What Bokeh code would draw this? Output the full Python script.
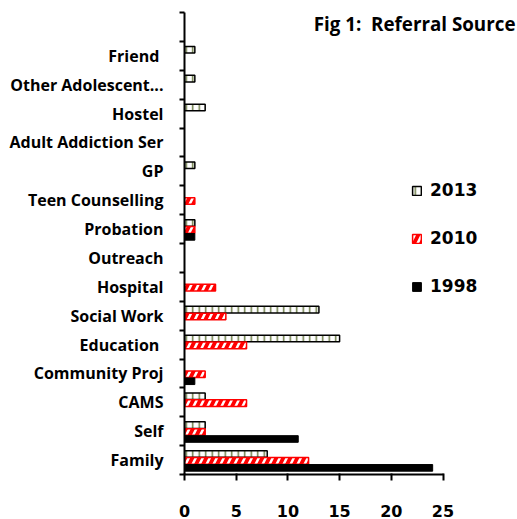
from bokeh.plotting import figure
from bokeh.models import Range1d, FixedTicker, ColumnDataSource, Legend, LegendItem, Label
from bokeh.transform import dodge
from bokeh.embed import file_html
from bokeh.resources import INLINE

# ---- data (bottom to top) ----
categories = ["Family", "Self", "CAMS", "Community Proj", "Education ", "Social Work",
              "Hospital", "Outreach", "Probation", "Teen Counselling", "GP",
              "Adult Addiction Ser", "Hostel", "Other Adolescent...", "Friend ", ""]
v2013 = [8, 2, 2, 0, 15, 13, 0, 0, 1, 0, 1, 0, 2, 1, 1, 0]
v2010 = [12, 2, 6, 2, 6, 4, 3, 0, 1, 1, 0, 0, 0, 0, 0, 0]
v1998 = [24, 11, 0, 1, 0, 0, 0, 0, 1, 0, 0, 0, 0, 0, 0, 0]
x_ticks = [0, 5, 10, 15, 20, 25]
series_names = ["2013", "2010", "1998"]
title_text = "Fig 1:\u00a0 Referral Source"

n = len(categories)
centers = [i + 0.5 for i in range(n)]
x_max = x_ticks[-1]


def make_source(vals):
    ys = [c for c, v in zip(centers, vals) if v > 0]
    xs = [v for v in vals if v > 0]
    return ColumnDataSource(dict(y=ys, x=xs))


# frame spans to the right edge so the legend/title are not clipped;
# the x axis itself is bounded to 0..25
p = figure(width=517, height=519, output_backend="svg", toolbar_location=None,
           x_range=Range1d(0, x_max * 333 / 258.5), y_range=Range1d(0, n),
           min_border_left=184, min_border_right=0, min_border_top=12, min_border_bottom=44)
p.outline_line_color = None
p.xgrid.visible = False
p.ygrid.visible = False
p.background_fill_color = "white"
p.border_fill_color = "white"

bh = 0.23
r13 = p.hbar(y=dodge("y", 0.21, range=p.y_range), right="x", left=0, height=bh,
             source=make_source(v2013), fill_color="white", line_color="black", line_width=1.5,
             hatch_pattern="|", hatch_color="#6b7b45", hatch_scale=6.5, hatch_weight=1.5)
r10 = p.hbar(y=dodge("y", -0.03, range=p.y_range), right="x", left=0, height=bh,
             source=make_source(v2010), fill_color="#ff0000", line_color="#ff0000", line_width=1.5,
             hatch_pattern="/", hatch_color="white", hatch_scale=14, hatch_weight=2.5)
r98 = p.hbar(y=dodge("y", -0.27, range=p.y_range), right="x", left=0, height=bh,
             source=make_source(v1998), fill_color="black", line_color="black", line_width=1)

# y axis: labels at band centres, ticks at band boundaries
ya = p.yaxis[0]
ya.ticker = FixedTicker(ticks=centers, minor_ticks=list(range(n + 1)))
ya.major_label_overrides = {c: lab for c, lab in zip(centers, categories)}
ya.major_tick_in = 0
ya.major_tick_out = 0
ya.minor_tick_in = 0
ya.minor_tick_out = 5
ya.minor_tick_line_width = 2
ya.minor_tick_line_color = "black"
ya.axis_line_width = 2
ya.axis_line_color = "black"
ya.major_label_standoff = 16
ya.major_label_text_font = "Open Sans"
ya.major_label_text_font_style = "bold"
ya.major_label_text_font_size = "16px"
ya.major_label_text_color = "black"

xa = p.xaxis[0]
xa.bounds = (0, x_max)
xa.ticker = FixedTicker(ticks=x_ticks, minor_ticks=[])
xa.major_tick_in = 1
xa.major_tick_out = 6
xa.major_tick_line_width = 2
xa.major_tick_line_color = "black"
xa.axis_line_width = 2
xa.axis_line_color = "black"
xa.major_label_standoff = 24
xa.major_label_text_line_height = 0.7
xa.major_label_text_font = "DejaVu Sans"
xa.major_label_text_font_style = "bold"
xa.major_label_text_font_size = "16px"
xa.major_label_text_color = "black"

legend = Legend(items=[LegendItem(label=series_names[0], renderers=[r13]),
                       LegendItem(label=series_names[1], renderers=[r10]),
                       LegendItem(label=series_names[2], renderers=[r98])],
                location=(227, 178), orientation="vertical",
                background_fill_alpha=0, border_line_color=None,
                padding=0, margin=0, spacing=28,
                glyph_width=11, glyph_height=11, label_height=20, label_standoff=8,
                label_text_font="DejaVu Sans", label_text_font_style="bold",
                label_text_font_size="17px", label_text_color="black")
p.add_layout(legend)

p.add_layout(Label(x=331, y=451, x_units="screen", y_units="screen", text=title_text,
                   text_align="right", text_baseline="middle", text_font="Open Sans",
                   text_font_style="bold", text_font_size="18.8px", text_color="black"))

open("out.html", "w").write(file_html(p, INLINE))
